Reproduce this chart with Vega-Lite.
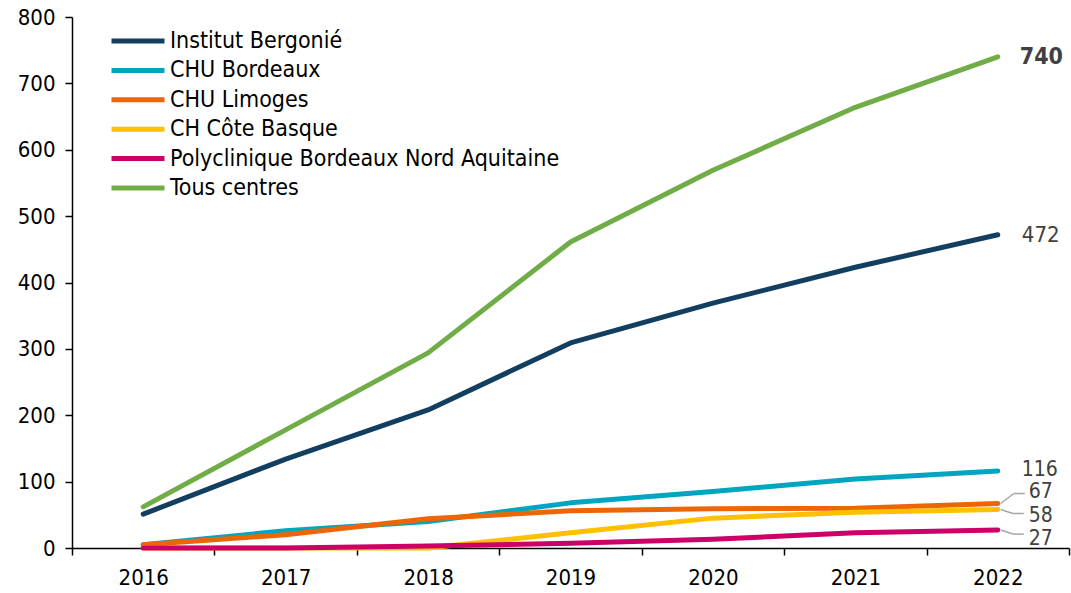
{
  "$schema": "https://vega.github.io/schema/vega-lite/v6.json",
  "width": 997,
  "height": 531,
  "autosize": "none",
  "padding": {"left": 72, "top": 17, "right": 2, "bottom": 45},
  "background": "white",
  "config": {
    "view": {"stroke": null},
    "font": "DejaVu Sans Condensed, DejaVu Sans",
    "axis": {"labelFont": "DejaVu Sans Condensed, DejaVu Sans", "labelFontSize": 22, "labelColor": "#000000", "domainColor": "#000000", "tickColor": "#000000", "domainWidth": 1.5, "tickWidth": 1.5, "grid": false, "title": null}
  },
  "data": {
    "values": [
      {"year": "2016", "centre": "Institut Bergonié", "value": 51},
      {"year": "2017", "centre": "Institut Bergonié", "value": 134},
      {"year": "2018", "centre": "Institut Bergonié", "value": 208},
      {"year": "2019", "centre": "Institut Bergonié", "value": 309},
      {"year": "2020", "centre": "Institut Bergonié", "value": 369},
      {"year": "2021", "centre": "Institut Bergonié", "value": 423},
      {"year": "2022", "centre": "Institut Bergonié", "value": 472},
      {"year": "2016", "centre": "CHU Bordeaux", "value": 5},
      {"year": "2017", "centre": "CHU Bordeaux", "value": 26},
      {"year": "2018", "centre": "CHU Bordeaux", "value": 40},
      {"year": "2019", "centre": "CHU Bordeaux", "value": 68},
      {"year": "2020", "centre": "CHU Bordeaux", "value": 85},
      {"year": "2021", "centre": "CHU Bordeaux", "value": 104},
      {"year": "2022", "centre": "CHU Bordeaux", "value": 116},
      {"year": "2016", "centre": "CHU Limoges", "value": 5},
      {"year": "2017", "centre": "CHU Limoges", "value": 20},
      {"year": "2018", "centre": "CHU Limoges", "value": 44},
      {"year": "2019", "centre": "CHU Limoges", "value": 56},
      {"year": "2020", "centre": "CHU Limoges", "value": 59},
      {"year": "2021", "centre": "CHU Limoges", "value": 60},
      {"year": "2022", "centre": "CHU Limoges", "value": 67},
      {"year": "2016", "centre": "CH Côte Basque", "value": 0},
      {"year": "2017", "centre": "CH Côte Basque", "value": 0},
      {"year": "2018", "centre": "CH Côte Basque", "value": 0},
      {"year": "2019", "centre": "CH Côte Basque", "value": 23},
      {"year": "2020", "centre": "CH Côte Basque", "value": 45},
      {"year": "2021", "centre": "CH Côte Basque", "value": 54},
      {"year": "2022", "centre": "CH Côte Basque", "value": 58},
      {"year": "2016", "centre": "Polyclinique Bordeaux Nord Aquitaine", "value": 0},
      {"year": "2017", "centre": "Polyclinique Bordeaux Nord Aquitaine", "value": 0},
      {"year": "2018", "centre": "Polyclinique Bordeaux Nord Aquitaine", "value": 3},
      {"year": "2019", "centre": "Polyclinique Bordeaux Nord Aquitaine", "value": 7},
      {"year": "2020", "centre": "Polyclinique Bordeaux Nord Aquitaine", "value": 13},
      {"year": "2021", "centre": "Polyclinique Bordeaux Nord Aquitaine", "value": 23},
      {"year": "2022", "centre": "Polyclinique Bordeaux Nord Aquitaine", "value": 27},
      {"year": "2016", "centre": "Tous centres", "value": 62},
      {"year": "2017", "centre": "Tous centres", "value": 178},
      {"year": "2018", "centre": "Tous centres", "value": 294},
      {"year": "2019", "centre": "Tous centres", "value": 461},
      {"year": "2020", "centre": "Tous centres", "value": 569},
      {"year": "2021", "centre": "Tous centres", "value": 664},
      {"year": "2022", "centre": "Tous centres", "value": 740}
    ]
  },
  "encoding": {
    "x": {
      "field": "year", "type": "ordinal", "bandPosition": 0.5,
      "scale": {"type": "band", "paddingInner": 0, "paddingOuter": 0},
      "axis": {"tickBand": "extent", "tickSize": 7, "labelPadding": 12, "labelAngle": 0, "domainWidth": 1.5}
    },
    "y": {
      "field": "value", "type": "quantitative",
      "scale": {"domain": [0, 800], "nice": false},
      "axis": {"values": [0,100,200,300,400,500,600,700,800], "tickSize": 7, "labelPadding": 10}
    }
  },
  "layer": [
    {
      "mark": {"type": "line", "strokeWidth": 5, "strokeCap": "round", "strokeJoin": "round"},
      "encoding": {
        "color": {
          "field": "centre", "type": "nominal",
          "scale": {
            "domain": ["Institut Bergonié", "CHU Bordeaux", "CHU Limoges", "CH Côte Basque", "Polyclinique Bordeaux Nord Aquitaine", "Tous centres"],
            "range": ["#123F5F", "#00A6BF", "#EC6608", "#FFC000", "#CC0066", "#70AD47"]
          },
          "legend": {
            "title": null, "orient": "none", "legendX": 37, "legendY": 9.5,
            "symbolType": "stroke", "symbolSize": 2809, "symbolStrokeWidth": 5,
            "labelFont": "DejaVu Sans Condensed, DejaVu Sans", "labelFontSize": 23, "labelColor": "#000000",
            "labelOffset": 3, "clipHeight": 29, "rowPadding": 0.4, "labelLimit": 600
          }
        }
      }
    },
    {
      "transform": [{"filter": "datum.year == '2022' && datum.centre == 'Tous centres'"}],
      "mark": {"type": "text", "align": "left", "baseline": "middle", "dx": 22, "fontSize": 23, "fontWeight": "bold", "color": "#404040"},
      "encoding": {"text": {"field": "value"}}
    },
    {
      "transform": [{"filter": "datum.year == '2022' && datum.centre == 'Institut Bergonié'"}],
      "mark": {"type": "text", "align": "left", "baseline": "middle", "dx": 24, "fontSize": 22, "color": "#404040"},
      "encoding": {"text": {"field": "value"}}
    },
    {
      "transform": [{"filter": "datum.year == '2022' && datum.centre == 'CHU Bordeaux'"}],
      "mark": {"type": "text", "align": "left", "baseline": "middle", "dx": 24, "dy": -1.5, "fontSize": 21, "color": "#404040"},
      "encoding": {"text": {"field": "value"}}
    },
    {
      "transform": [{"filter": "datum.year == '2022' && datum.centre == 'CHU Limoges'"}],
      "mark": {"type": "text", "align": "left", "baseline": "middle", "dx": 31, "dy": -11.5, "fontSize": 21, "color": "#404040"},
      "encoding": {"text": {"field": "value"}}
    },
    {
      "transform": [{"filter": "datum.year == '2022' && datum.centre == 'CH Côte Basque'"}],
      "mark": {"type": "text", "align": "left", "baseline": "middle", "dx": 31, "dy": 6, "fontSize": 21, "color": "#404040"},
      "encoding": {"text": {"field": "value"}}
    },
    {
      "transform": [{"filter": "datum.year == '2022' && datum.centre == 'Polyclinique Bordeaux Nord Aquitaine'"}],
      "mark": {"type": "text", "align": "left", "baseline": "middle", "dx": 31, "dy": 8.5, "fontSize": 21, "color": "#404040"},
      "encoding": {"text": {"field": "value"}}
    },
    {
      "transform": [{"filter": "datum.year == '2022' && datum.centre == 'CHU Limoges'"}],
      "mark": {"type": "rule", "color": "#A6A6A6", "strokeWidth": 1.5, "xOffset": 3, "x2Offset": 16, "y2Offset": -10},
      "encoding": {"x2": {"field": "year"}, "y2": {"field": "value"}}
    },
    {
      "transform": [{"filter": "datum.year == '2022' && datum.centre == 'CHU Limoges'"}],
      "mark": {"type": "rule", "color": "#A6A6A6", "strokeWidth": 1.5, "xOffset": 16, "x2Offset": 27, "yOffset": -10, "y2Offset": -10},
      "encoding": {"x2": {"field": "year"}, "y2": {"field": "value"}}
    },
    {
      "transform": [{"filter": "datum.year == '2022' && (datum.centre == 'CH Côte Basque' || datum.centre == 'Polyclinique Bordeaux Nord Aquitaine')"}],
      "mark": {"type": "rule", "color": "#A6A6A6", "strokeWidth": 1.5, "xOffset": 3, "x2Offset": 15, "y2Offset": 4},
      "encoding": {"x2": {"field": "year"}, "y2": {"field": "value"}}
    },
    {
      "transform": [{"filter": "datum.year == '2022' && (datum.centre == 'CH Côte Basque' || datum.centre == 'Polyclinique Bordeaux Nord Aquitaine')"}],
      "mark": {"type": "rule", "color": "#A6A6A6", "strokeWidth": 1.5, "xOffset": 15, "x2Offset": 26, "yOffset": 4, "y2Offset": 4},
      "encoding": {"x2": {"field": "year"}, "y2": {"field": "value"}}
    }
  ]
}
